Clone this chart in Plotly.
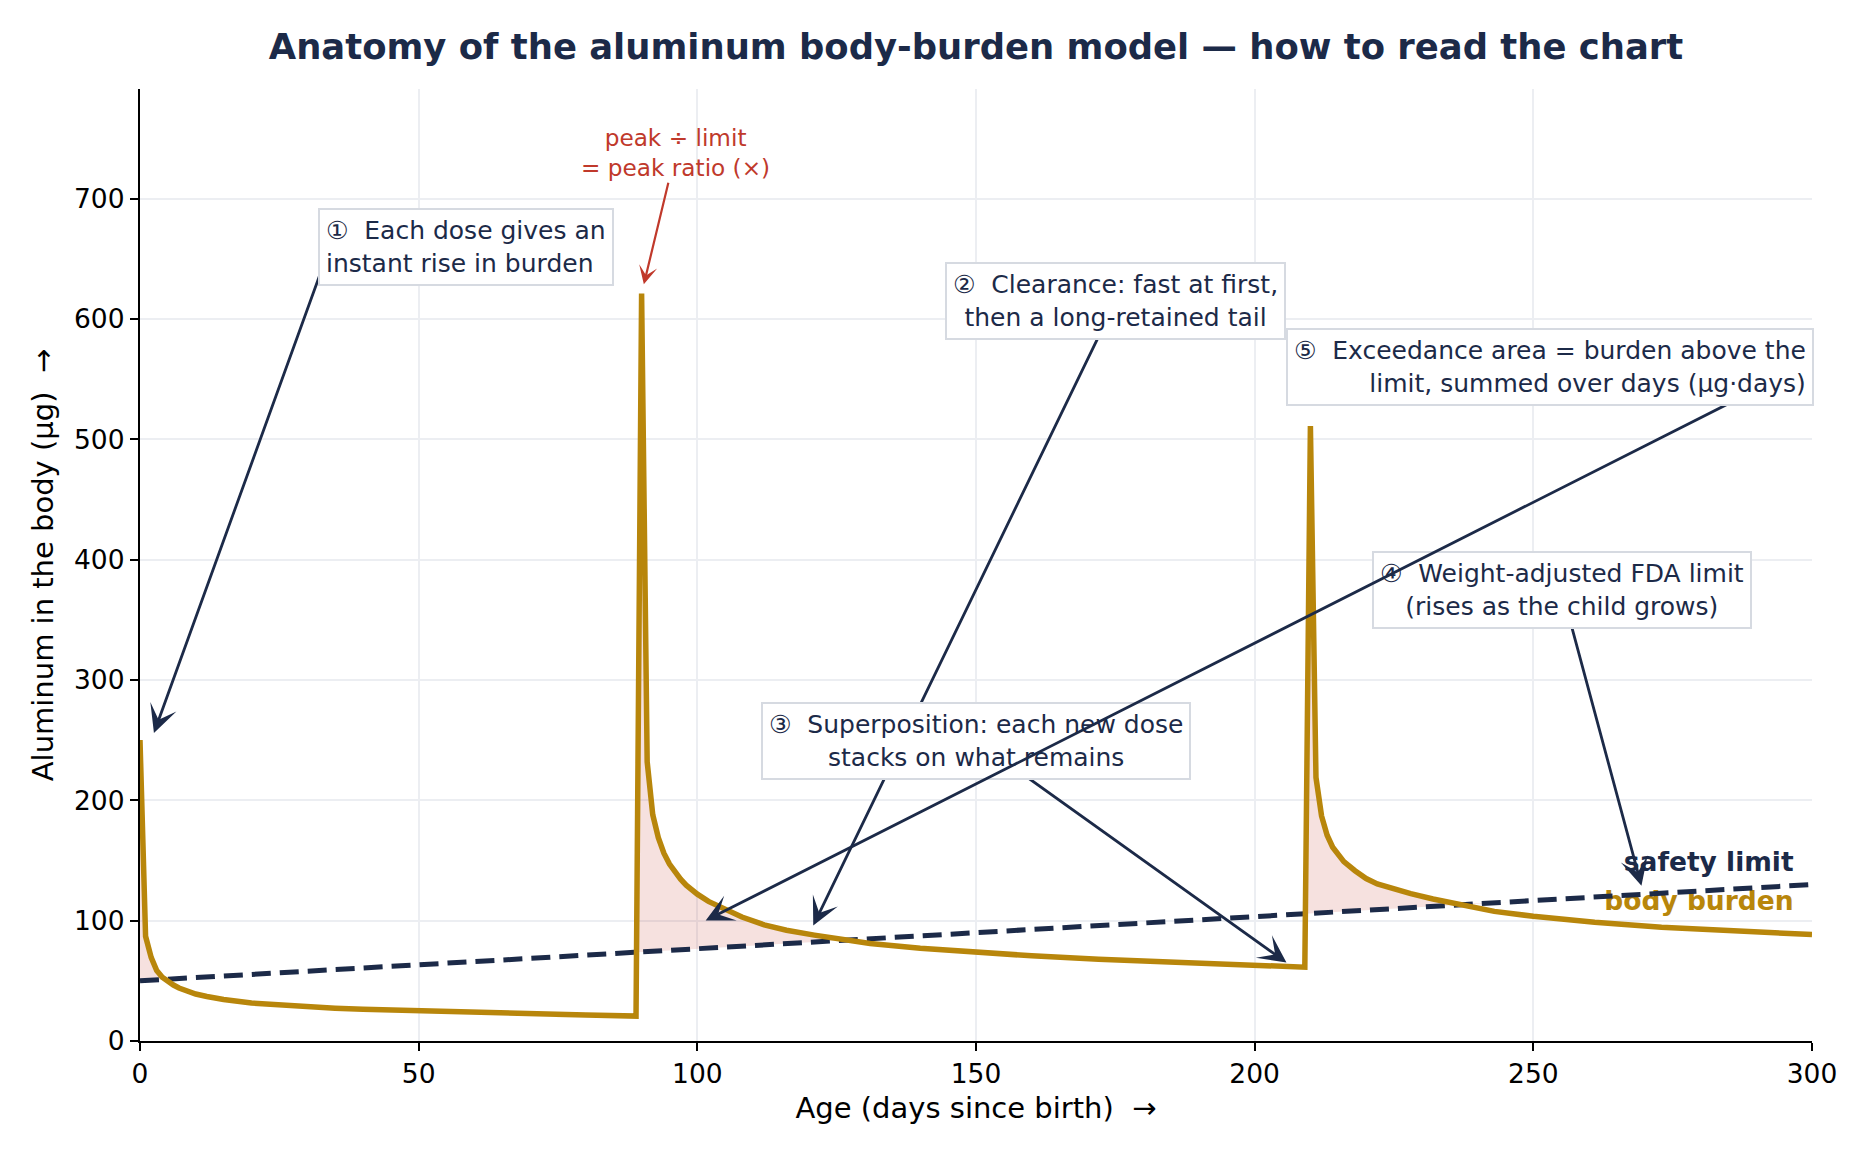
import numpy as np
import plotly.graph_objects as go

# ---------------- data ----------------
DAYS = [0, 1, 2, 3, 4, 5, 6, 7, 8, 10, 12, 15, 20, 25, 30, 35, 40, 50, 60, 70, 80, 89,
        90, 91, 92, 93, 94, 95, 96, 97, 98, 100, 102, 105, 108, 112, 116, 121, 126, 131,
        140, 150, 160, 172, 185, 200, 209,
        210, 211, 212, 213, 214, 215, 216, 218, 220, 222, 225, 228, 232, 236, 243, 250,
        261, 273, 285, 300]
BURDEN_UG = [250, 87, 69.5, 58.5, 53, 49.5, 46.5, 44, 42, 39, 37, 34.5, 31.5, 29.8, 28.5,
             27.3, 26.4, 24.9, 23.6, 22.5, 21.5, 20.7,
             621, 232, 188, 169, 156, 147, 140, 134.5, 129.5, 122, 116, 109, 103, 96.5, 92,
             88, 84.5, 81, 77, 73.6, 70.8, 68, 65.3, 63, 61.3,
             511, 219, 187, 171, 161, 154.5, 149, 141.5, 135, 130.5, 126, 122.5, 118, 114,
             107.7, 103.6, 98.6, 94.5, 91.4, 88.4]
LIMIT_DAYS = [0, 300]
LIMIT_UG = [50, 130]

X_TICKS = [0, 50, 100, 150, 200, 250, 300]
Y_TICKS = [0, 100, 200, 300, 400, 500, 600, 700]

TITLE = "Anatomy of the aluminum body-burden model — how to read the chart"
X_TITLE = "Age (days since birth) \u00a0→"
Y_TITLE = "Aluminum in the body (μg) \u00a0→"

NOTE_1 = "①\u00a0\u00a0Each dose gives an<br>instant rise in burden"
NOTE_2 = "②\u00a0\u00a0Clearance: fast at first,<br>then a long-retained tail"
NOTE_3 = "③\u00a0\u00a0Superposition: each new dose<br>stacks on what remains"
NOTE_4 = "④\u00a0\u00a0Weight-adjusted FDA limit<br>(rises as the child grows)"
NOTE_5 = "⑤\u00a0\u00a0Exceedance area = burden above the<br>limit, summed over days (µg·days)"
NOTE_RED = "peak ÷ limit<br>= peak ratio (×)"
LABEL_LIMIT = "safety limit"
LABEL_BURDEN = "body burden"

# ---------------- styles ----------------
NAVY = "#1c2a48"
GOLD = "#b8860b"
RED = "#c0392b"
FILL = "rgba(192,57,43,0.15)"
GRID = "#eceef2"
BOX_BORDER = "#d6dae1"
FONT = "DejaVu Sans"

days = np.array(DAYS, dtype=float)
burden = np.array(BURDEN_UG, dtype=float)
limit_at = np.interp(days, LIMIT_DAYS, LIMIT_UG)
upper = np.maximum(burden, limit_at)

fig = go.Figure()

# exceedance shading
fig.add_trace(go.Scatter(x=days, y=limit_at, mode="lines", line=dict(width=0),
                         hoverinfo="skip", showlegend=False))
fig.add_trace(go.Scatter(x=days, y=upper, mode="lines", line=dict(width=0),
                         fill="tonexty", fillcolor=FILL, hoverinfo="skip", showlegend=False))

# end labels (under the lines)
fig.add_trace(go.Scatter(x=[296.7], y=[147], mode="text", text=[LABEL_LIMIT],
                         textposition="middle left",
                         textfont=dict(family=FONT, size=26.5, color=NAVY, weight="bold"),
                         hoverinfo="skip", showlegend=False))
fig.add_trace(go.Scatter(x=[296.7], y=[114], mode="text", text=[LABEL_BURDEN],
                         textposition="middle left",
                         textfont=dict(family=FONT, size=26.5, color=GOLD, weight="bold"),
                         hoverinfo="skip", showlegend=False))

# safety limit
fig.add_trace(go.Scatter(x=LIMIT_DAYS, y=LIMIT_UG, mode="lines",
                         line=dict(color=NAVY, width=5, dash="19px,9px"),
                         hoverinfo="skip", showlegend=False))
# body burden
fig.add_trace(go.Scatter(x=days, y=burden, mode="lines",
                         line=dict(color=GOLD, width=5.5),
                         hoverinfo="skip", showlegend=False))

box_font = dict(family=FONT, size=25, color=NAVY)


def arrow(x0, y0, x1, y1, color=NAVY, width=2.8, size=1.65):
    fig.add_annotation(x=x1, y=y1, ax=x0, ay=y0, xref="x", yref="y", axref="x", ayref="y",
                       text="", showarrow=True, arrowhead=3, arrowsize=size,
                       arrowwidth=width, arrowcolor=color, standoff=0, startstandoff=0)


def box(x, y, text, align="center", xanchor="center", xref="x"):
    fig.add_annotation(x=x, y=y, xref=xref, yref="y", text=text, showarrow=False,
                       align=align, xanchor=xanchor, yanchor="middle",
                       font=box_font, bgcolor="white", bordercolor=BOX_BORDER,
                       borderwidth=2, borderpad=6)


# ① instant rise
arrow(34.1, 660, 2.5, 256)
box(31.9, 660, NOTE_1, align="left", xanchor="left")

# red peak ratio note
fig.add_annotation(x=90.4, y=628.7, ax=96.1, ay=738, xref="x", yref="y", axref="x", ayref="y",
                   text=NOTE_RED, showarrow=True, arrowhead=3, arrowsize=1.4, arrowwidth=2.2,
                   arrowcolor=RED, standoff=0, align="center",
                   font=dict(family=FONT, size=23.2, color=RED))

# ② clearance
arrow(175.1, 615, 120.8, 96)
box(175.1, 615, NOTE_2)

# ③ superposition
arrow(150, 249.5, 205.7, 65.2)
box(150, 249.5, NOTE_3)

# ④ limit
arrow(255.1, 374.8, 269.4, 129)
box(255.1, 374.8, NOTE_4)

# ⑤ exceedance
arrow(298, 560, 101.5, 100.1)
box(1.0009, 560, NOTE_5, align="right", xanchor="right", xref="paper")

axis_common = dict(showgrid=True, gridcolor=GRID, gridwidth=1.8, zeroline=False,
                   showline=True, linecolor="black", linewidth=2.2, mirror=False,
                   ticks="outside", ticklen=8, tickwidth=2, tickcolor="black",
                   tickfont=dict(family=FONT, size=26.5, color="black"))

fig.update_layout(
    width=1870, height=1156,
    margin=dict(l=140, r=58, t=89, b=115, pad=0),
    paper_bgcolor="white", plot_bgcolor="white",
    font=dict(family=FONT, color="black"),
    showlegend=False,
    title=dict(text=TITLE, x=0.5, xref="paper", xanchor="center",
               y=1 - 46.5 / 1156, yref="container", yanchor="middle",
               font=dict(family=FONT, size=35.4, color=NAVY, weight="bold")),
    xaxis=dict(range=[0, 300], tickvals=X_TICKS, **axis_common,
               title=dict(text=X_TITLE, font=dict(family=FONT, size=29, color="black"),
                          standoff=10)),
    yaxis=dict(range=[0, 791], tickvals=Y_TICKS, **axis_common,
               title=dict(text=Y_TITLE, font=dict(family=FONT, size=29, color="black"),
                          standoff=12)),
)

fig.write_html("out.html", config={"displayModeBar": False},
               post_script="document.body.style.margin='0';document.body.style.overflow='hidden';")
